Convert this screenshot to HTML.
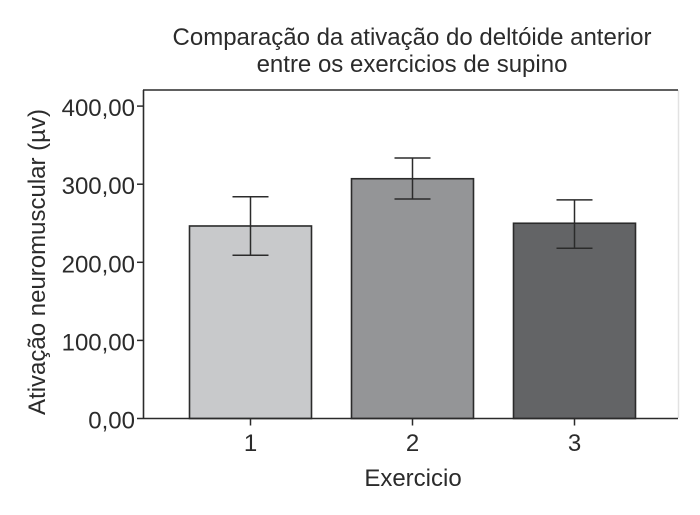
<!DOCTYPE html>
<html lang="pt">
<head>
<meta charset="utf-8">
<title>Comparação da ativação do deltóide anterior</title>
<style>
html,body{margin:0;padding:0;background:#fff;width:700px;height:515px;overflow:hidden}
svg{display:block}
text{font-family:"Liberation Sans",Arial,sans-serif;fill:#2b2b2b}
</style>
</head>
<body>
<svg id="chart" width="700" height="515" viewBox="0 0 700 515" xmlns="http://www.w3.org/2000/svg">
<text x="412" y="45" font-size="24" text-anchor="middle">Comparação da ativação do deltóide anterior</text>
<text x="412" y="72" font-size="24" text-anchor="middle">entre os exercicios de supino</text>
<line x1="678.5" y1="90" x2="678.5" y2="418" stroke="#e2e2e2" stroke-width="1.5"/>
<line x1="143" y1="90" x2="678" y2="90" stroke="#2b2b2b" stroke-width="1.6"/>
<g id="bars"></g>
<g id="errors"></g>
<line x1="143.5" y1="90" x2="143.5" y2="419" stroke="#2b2b2b" stroke-width="1.6"/>
<line x1="143" y1="418.5" x2="678" y2="418.5" stroke="#2b2b2b" stroke-width="1.6"/>
<g id="y-axis"></g>
<g id="x-axis"></g>
<text transform="translate(45,262) rotate(-90)" font-size="24" text-anchor="middle">Ativação neuromuscular (µv)</text>
<text x="413" y="486" font-size="24" text-anchor="middle">Exercicio</text>
</svg>
<script>
const categories = ['1', '2', '3'];
const meanValues = [246.5, 307, 250];
const errorLow = [209, 281, 218];
const errorHigh = [284, 333.5, 280];
const barColors = ['#c8c9cb', '#949597', '#636466'];
const yTickValues = [0, 100, 200, 300, 400];
const yTickLabels = ['0,00', '100,00', '200,00', '300,00', '400,00'];

const NS = 'http://www.w3.org/2000/svg';
const yBase = 418.5, yScale = 0.781;
const xStart = 250.5, xStep = 162, barWidth = 122, capHalf = 18;
const yPos = v => yBase - v * yScale;
const xPos = i => xStart + i * xStep;
const ink = '#2b2b2b';
function make(tag, attrs, parent) {
  const el = document.createElementNS(NS, tag);
  for (const k in attrs) el.setAttribute(k, attrs[k]);
  parent.appendChild(el);
  return el;
}
const barsG = document.getElementById('bars');
const errG = document.getElementById('errors');
const yG = document.getElementById('y-axis');
const xG = document.getElementById('x-axis');

categories.forEach((c, i) => {
  const x = xPos(i);
  const bar = make('rect', {x: x - barWidth / 2, y: yPos(meanValues[i]), width: barWidth, height: yBase - yPos(meanValues[i]), fill: barColors[i], stroke: ink, 'stroke-width': 1.6}, barsG);
  
  

  const stem = make('line', {x1: x, x2: x, y1: yPos(errorHigh[i]), y2: yPos(errorLow[i]), stroke: ink, 'stroke-width': 1.5}, errG);
  
  
  const capTop = make('line', {x1: x - capHalf, x2: x + capHalf, y1: yPos(errorHigh[i]), y2: yPos(errorHigh[i]), stroke: ink, 'stroke-width': 1.5}, errG);
  
  
  const capLow = make('line', {x1: x - capHalf, x2: x + capHalf, y1: yPos(errorLow[i]), y2: yPos(errorLow[i]), stroke: ink, 'stroke-width': 1.5}, errG);
  
  

  const tick = make('line', {x1: x, x2: x, y1: yBase, y2: yBase + 7, stroke: ink, 'stroke-width': 1.5}, xG);
  
  
  const label = make('text', {x: x, y: 451, 'font-size': 24, 'text-anchor': 'middle'}, xG);
  label.textContent = c;
  
  
});

yTickValues.forEach((v, i) => {
  const y = yPos(v);
  const tick = make('line', {x1: 137, x2: 143, y1: y, y2: y, stroke: ink, 'stroke-width': 1.5}, yG);
  
  
  const label = make('text', {x: 135, y: y + 10, 'font-size': 24, 'text-anchor': 'end'}, yG);
  label.textContent = yTickLabels[i];
  
  
});
</script>
</body>
</html>
